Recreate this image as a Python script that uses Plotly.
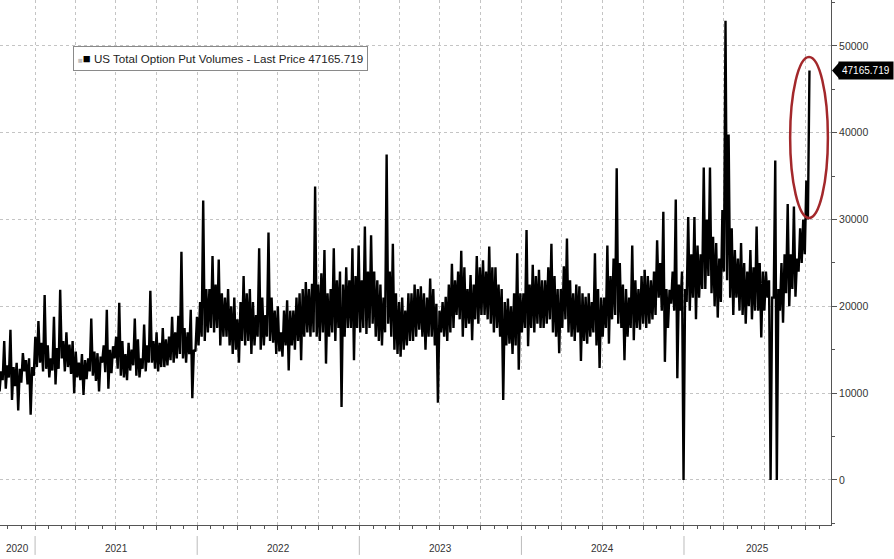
import pandas as pd
import plotly.graph_objects as go

# ---- data: weekly low / high ----
start_date = "2020-10-06"
weekly_low = [
    11000, 10200, 11500, 10500, 11800, 9200, 10800, 8000, 11200, 12500,
    11000, 7500, 12000, 13000, 13500, 12500, 12800, 11800, 12600, 11000,
    12800, 14000, 12500, 13000, 12200, 10000, 11800, 11500, 9800, 11600,
    12500, 12000, 11400, 10200, 13500, 12400, 10500, 12300, 14000, 12800,
    12000, 11800, 11500, 12600, 13200, 12000, 11800, 12800, 12500, 13500,
    13500, 12800, 12500, 13000, 13000, 13200, 13800, 13500, 14000, 14500,
    14000, 13500, 14500, 9400, 14800, 15500, 16500, 16000, 17000, 17500,
    17000, 17500, 15500, 16500, 16500, 15500, 14500, 15000, 13500, 16000,
    15500, 16000, 14500, 15500, 16500, 15000, 15500, 16500, 16000, 15800,
    14500, 14800, 14200, 15500, 12600, 15500, 15000, 16000, 13800, 16500,
    17000, 16500, 17000, 16500, 16000, 17000, 13400, 16500, 17000, 16000,
    17500, 8400, 16500, 17500, 17500, 13800, 17500, 17000, 17500, 16800,
    17500, 18000, 16500, 16000, 15500, 17000, 18000, 16500, 15000, 14500,
    14200, 15000, 15500, 16000, 16000, 16500, 17300, 16500, 15000, 16500,
    16500, 15500, 8900, 17000, 16500, 16000, 17000, 17500, 19000, 18500,
    16500, 17500, 18000, 16100, 18500, 18000, 19000, 19000, 18500, 18000,
    17000, 17500, 16500, 9200, 15500, 15700, 14500, 15500, 12700, 17000,
    17500, 15400, 17500, 17000, 18000, 17500, 17500, 18000, 18500, 17000,
    16500, 14600, 17500, 18500, 17000, 16500, 16000, 17000, 13700, 16000,
    15700, 16500, 17000, 15500, 12900, 16500, 17500, 15700, 18500, 19000,
    18000, 17500, 13800, 16500, 17500, 16100, 17500, 17300, 18000, 17500,
    18000, 18500, 19000, 21000, 19500, 13600, 17500, 20300, 19500, 11700,
    19500, 0, 20500, 19500, 21000, 18500, 21000, 22000, 22000, 23500,
    21500, 20000, 18700, 20500, 24000, 23000, 21000, 19000, 21000, 19500,
    19000, 18000, 20000, 18500, 19500, 19500, 16400, 19500, 21000, 0,
    21000, 0, 19500, 18100, 21500, 20000, 22000, 21100, 24000, 25000,
    26000, 30000,
]
weekly_high = [
    13800, 12500, 16000, 13200, 17300, 13000, 13500, 12800, 14600, 13800,
    14000, 13000, 16500, 18300, 15800, 21300, 15500, 14000, 18800, 15200,
    21900, 16000, 17000, 15600, 16000, 14800, 13500, 14500, 13800, 14000,
    18600, 14800, 14600, 14200, 15500, 19600, 15000, 15400, 16500, 20400,
    16000, 14500, 15800, 15000, 18600, 16200, 14000, 17900, 15500, 21800,
    16000, 17000, 15800, 17500, 16200, 16500, 18800, 17000, 18900, 26300,
    17500, 17000, 19600, 15000, 18800, 20500, 32200, 22000, 22000, 25800,
    22500, 25400, 21500, 21000, 22000, 20000, 21000, 18500, 20500, 23500,
    21500, 22000, 20500, 19000, 26700, 21000, 19000, 28500, 21000, 19500,
    20000, 17000, 19500, 20700, 19500, 19500, 21000, 21500, 22000, 22800,
    22000, 22600, 33800, 22500, 23800, 26500, 21500, 22000, 26700, 23000,
    24000, 22500, 24500, 23000, 26700, 23500, 27000, 23000, 29200, 24000,
    28200, 24000, 23000, 22500, 21000, 37500, 24000, 27200, 21500, 20500,
    21000, 19500, 21500, 21500, 22500, 22000, 22300, 21500, 21000, 23200,
    22000, 20300, 19500, 20500, 21100, 22500, 24900, 23000, 24000, 26400,
    24500, 22000, 23600, 22500, 25800, 24500, 25300, 24000, 26900, 24500,
    24500, 22500, 22000, 20500, 20900, 20000, 21500, 26100, 21500, 21500,
    28800, 22500, 24800, 23500, 24200, 23000, 23000, 24500, 27200, 23500,
    22000, 22000, 24600, 27800, 23000, 21500, 22500, 22300, 21500, 21100,
    21500, 20500, 26100, 22000, 21000, 21000, 27000, 23500, 25500, 35900,
    25000, 22500, 22000, 21000, 27000, 23000, 22000, 23500, 24200, 23500,
    23000, 24000, 27600, 25000, 30900, 22000, 21900, 24000, 32300, 22500,
    24000, 22000, 30300, 26000, 30300, 27000, 26000, 36000, 30000, 36000,
    28000, 27300, 25500, 31100, 52900, 39800, 29000, 26500, 25500, 27300,
    25000, 24000, 26500, 24500, 29200, 25000, 24000, 24000, 23000, 21000,
    36800, 22000, 25000, 26000, 31800, 26000, 31500, 25500, 29000, 30000,
    34500, 47165.719,
]
series_name = "US Total Option Put Volumes - Last Price"
year_labels = ["2020", "2021", "2022", "2023", "2024", "2025"]
y_ticks = [0, 10000, 20000, 30000, 40000, 50000]

# interleave each week's low and high (half a week apart)
values = []
for lo, hi in zip(weekly_low, weekly_high):
    values += [lo, hi]
dates = pd.date_range(start_date, periods=len(values), freq="84h")
last_price = values[-1]

x_start = pd.Timestamp("2020-10-14")
x_end = pd.Timestamp("2025-11-28")
y_min, y_max = -5200, 55300

grid_col = "#c4c4c4"
axis_col = "#555555"
text_col = "#333333"

fig = go.Figure()
fig.add_trace(go.Scatter(
    x=dates, y=values, mode="lines",
    line=dict(color="black", width=2.4),
    name=series_name, showlegend=False, hoverinfo="skip",
))

fig.update_layout(
    width=894, height=559,
    margin=dict(l=0, r=63, t=0, b=34),
    paper_bgcolor="white", plot_bgcolor="white",
    font=dict(family="Liberation Sans, Arial, sans-serif", size=10, color=text_col),
)

fig.update_xaxes(
    type="date", range=[x_start, x_end],
    showgrid=True, gridcolor=grid_col, griddash="dot", gridwidth=1,
    dtick="M3", tick0="2021-01-01",
    ticks="outside", ticklen=4, tickcolor=axis_col,
    showticklabels=False,
    showline=True, linecolor=axis_col, linewidth=1,
    minor=dict(dtick="M1", tick0="2021-01-01", ticks="outside", ticklen=3,
               tickcolor=axis_col, showgrid=False),
    zeroline=False,
)
fig.update_yaxes(
    side="right", range=[y_min, y_max],
    tickvals=y_ticks, ticktext=[str(v) for v in y_ticks],
    showgrid=True, gridcolor=grid_col, griddash="dot", gridwidth=1,
    ticks="outside", ticklen=5, tickcolor=axis_col,
    tickfont=dict(size=10.5, color=text_col),
    showline=True, linecolor=axis_col, linewidth=1,
    minor=dict(dtick=5000, tick0=0, ticks="outside", ticklen=3,
               tickcolor=axis_col, showgrid=False),
    zeroline=False,
)

# year labels centred on visible part of each year + separators
annotations = []
shapes = []
for lab in year_labels:
    y0 = max(pd.Timestamp(f"{lab}-01-01"), x_start)
    y1 = min(pd.Timestamp(f"{int(lab) + 1}-01-01"), x_end)
    mid = y0 + (y1 - y0) / 2
    annotations.append(dict(
        x=mid, y=0, xref="x", yref="paper", text=lab, showarrow=False,
        yanchor="middle", yshift=-23, font=dict(size=10, color=text_col),
    ))
    if int(lab) > 2020:
        shapes.append(dict(
            type="line", xref="x", yref="paper",
            x0=pd.Timestamp(f"{lab}-01-01"), x1=pd.Timestamp(f"{lab}-01-01"),
            y0=-0.021, y1=-0.057, line=dict(color="#bbbbbb", width=1),
        ))

# legend box
annotations.append(dict(
    x=0.088, y=0.912, xref="paper", yref="paper", xanchor="left", yanchor="top",
    showarrow=False, align="left",
    text=('<span style="color:#c0c0c0;font-size:8px">■</span>'
          '<span style="font-size:13px;color:black">■</span> '
          f"{series_name} {last_price}"),
    font=dict(size=11.6, color="#222222"),
    bgcolor="white", bordercolor="#8a8a8a", borderwidth=1, borderpad=4,
))

# last price tag
annotations.append(dict(
    x=1, y=last_price, xref="paper", yref="y", xanchor="left", yanchor="middle",
    xshift=7, showarrow=False, text=f"{last_price}",
    font=dict(size=10, color="white"), bgcolor="black", borderpad=3,
))
shapes.append(dict(
    type="path", xref="paper", yref="y",
    xsizemode="pixel", ysizemode="pixel", xanchor=1, yanchor=last_price,
    path="M 1 0 L 8 8 L 8 -8 Z", fillcolor="black", line=dict(width=0),
))

# red ellipse highlighting the latest spike
shapes.append(dict(
    type="circle", xref="x", yref="y",
    x0=pd.Timestamp("2025-08-28"), x1=pd.Timestamp("2025-11-21"),
    y0=30180, y1=48730,
    line=dict(color="#a3282b", width=2.5),
))

fig.update_layout(annotations=annotations, shapes=shapes)
fig.write_html("out.html", config={"displayModeBar": False},
               post_script="document.body.style.margin='0';")
